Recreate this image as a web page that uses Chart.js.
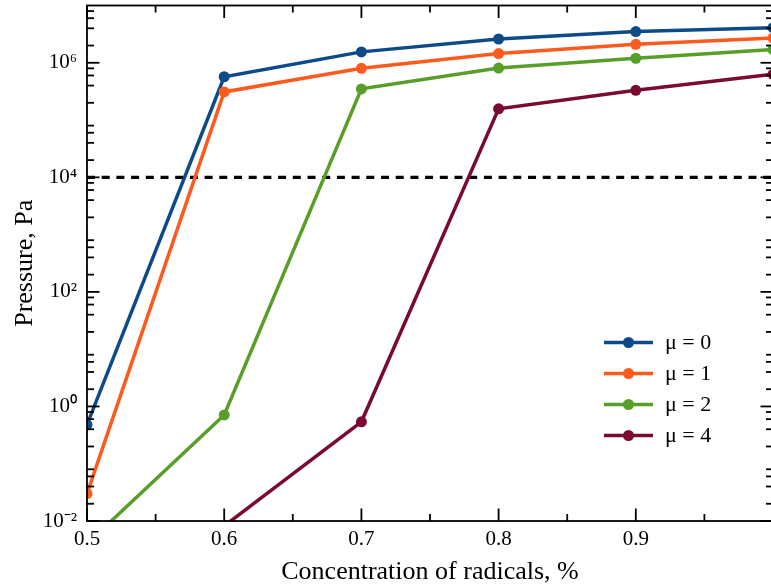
<!DOCTYPE html>
<html><head><meta charset="utf-8">
<script src="https://cdn.jsdelivr.net/npm/chart.js@4/dist/chart.umd.min.js"></script>
<style>
html,body{margin:0;padding:0;overflow:hidden;background:#fff;width:771px;height:588px}
#wrap{position:absolute;left:0;top:0;width:800px;height:588px}
canvas{display:block}
</style></head><body><div id="wrap"><canvas id="c" width="800" height="588" style="width:800px;height:588px"></canvas></div>
<script>
// ---- data ----
const concentrations = [0.5, 0.6, 0.7, 0.8, 0.9, 1.0];
const seriesLabels = ['μ = 0', 'μ = 1', 'μ = 2', 'μ = 4'];
const pressureMu0 = [0.48, 5.7e5, 1.55e6, 2.6e6, 3.5e6, 4.1e6];
const pressureMu1 = [0.03, 3.1e5, 8.0e5, 1.45e6, 2.1e6, 2.7e6];
const pressureMu2 = [0.004, 0.71, 3.5e5, 8.1e5, 1.2e6, 1.7e6];
const pressureMu4 = [null, 0.0082, 0.54, 1.57e5, 3.3e5, 6.3e5];
const thresholdPressure = 1e4;
const xTickValues = [0.5, 0.6, 0.7, 0.8, 0.9, 1.0];
const xTickLabels = ['0.5', '0.6', '0.7', '0.8', '0.9', ''];
const yTickValues = [1e-2, 1e0, 1e2, 1e4, 1e6];
const yTickLabels = ['10⁻²', '10⁰', '10²', '10⁴', '10⁶'];
const seriesColors = ['#0c4a88', '#ff5a1e', '#5a9e2a', '#7a0a2e'];

const FONT = "'Liberation Serif', 'Times New Roman', serif";
const allSeries = [pressureMu0, pressureMu1, pressureMu2, pressureMu4];

const toPoints = vals => concentrations.map((c, i) => ({x: c, y: vals[i]}));

const datasets = allSeries.map((vals, i) => ({
  label: seriesLabels[i],
  data: toPoints(vals),
  borderColor: seriesColors[i],
  backgroundColor: seriesColors[i],
  borderWidth: 3.5,
  pointRadius: 5.5,
  pointBorderWidth: 0,
  pointBackgroundColor: seriesColors[i],
  tension: 0,
  spanGaps: false,
  clip: 0,
  order: 4 - i
}));
datasets.push({
  label: '',
  data: [{x: concentrations[0], y: thresholdPressure}, {x: concentrations[concentrations.length - 1], y: thresholdPressure}],
  borderColor: '#000',
  borderWidth: 3.3,
  borderDash: [8, 6.7],
  pointRadius: 0,
  clip: 0,
  order: 10,
  isRef: true
});

const frameTicks = {
  id: 'frameTicks',
  afterDatasetsDraw(chart) {
    const {ctx, chartArea: {left, right, top, bottom}, scales: {x, y}} = chart;
    ctx.save();
    ctx.strokeStyle = '#000';
    ctx.lineWidth = 1.8;
    const seg = (x1, y1, x2, y2) => { ctx.beginPath(); ctx.moveTo(x1, y1); ctx.lineTo(x2, y2); ctx.stroke(); };
    const MAJ = 12.5, MIN = 7;
    const xt = x.ticks.map(t => t.value);
    xt.forEach(v => { const p = x.getPixelForValue(v); seg(p, bottom, p, bottom - MAJ); seg(p, top, p, top + MAJ); });
    for (let i = 0; i < xt.length - 1; i++) {
      const p = x.getPixelForValue((xt[i] + xt[i + 1]) / 2);
      seg(p, bottom, p, bottom - MIN); seg(p, top, p, top + MIN);
    }
    y.ticks.forEach(t => { const p = y.getPixelForValue(t.value); seg(left, p, left + MAJ, p); seg(right, p, right - MAJ, p); });
    const e0 = Math.floor(Math.log10(y.min)), e1 = Math.ceil(Math.log10(y.max));
    for (let e = e0; e <= e1; e++) {
      [2, 4, 6, 8].forEach(m => {
        const v = m * Math.pow(10, e);
        if (v > y.min && v < y.max) { const p = y.getPixelForValue(v); seg(left, p, left + MIN, p); seg(right, p, right - MIN, p); }
      });
    }
    ctx.strokeRect(left, top, right - left, bottom - top);
    ctx.restore();
  }
};

const legendInside = {
  id: 'legendInside',
  afterDraw(chart) {
    const {ctx, chartArea: {right, top}} = chart;
    const items = chart.data.datasets.filter(d => !d.isRef);
    ctx.save();
    ctx.font = "22px " + FONT;
    ctx.textBaseline = 'middle';
    ctx.textAlign = 'left';
    items.forEach((d, i) => {
      const cy = top + 337 + i * 31;
      const x0 = right - 169, x1 = right - 120;
      ctx.strokeStyle = d.borderColor; ctx.lineWidth = 3.5;
      ctx.beginPath(); ctx.moveTo(x0, cy); ctx.lineTo(x1, cy); ctx.stroke();
      ctx.fillStyle = d.borderColor;
      ctx.beginPath(); ctx.arc((x0 + x1) / 2, cy, 5.5, 0, Math.PI * 2); ctx.fill();
      ctx.fillStyle = '#000';
      ctx.fillText(d.label, right - 108, cy + 1);
    });
    ctx.restore();
  }
};

new Chart(document.getElementById('c'), {
  type: 'line',
  data: {datasets},
  options: {
    responsive: false,
    animation: false,
    events: [],
    layout: {padding: {top: 5, right: 27, left: 0, bottom: 0}},
    plugins: {legend: {display: false}, tooltip: {enabled: false}},
    scales: {
      x: {
        type: 'linear', min: 0.5, max: 1.0,
        afterBuildTicks: s => { s.ticks = xTickValues.map(v => ({value: v})); },
        afterFit: s => { s.height = 67; s.paddingLeft = 0; s.paddingRight = 0; },
        grid: {display: false, drawTicks: false},
        border: {display: false},
        ticks: {
          padding: 6, color: '#000', font: {family: FONT, size: 21}, maxRotation: 0, autoSkip: false,
          callback: v => { const i = xTickValues.findIndex(t => Math.abs(t - v) < 1e-9); return i >= 0 ? xTickLabels[i] : ''; }
        },
        title: {display: true, text: 'Concentration of radicals, %', color: '#000', font: {family: FONT, size: 26}, padding: {top: 0, bottom: 0}}
      },
      y: {
        type: 'logarithmic', min: 1e-2, max: 1e7,
        afterBuildTicks: s => { s.ticks = yTickValues.map(v => ({value: v})); },
        afterFit: s => { s.width = 87; s.paddingTop = 0; s.paddingBottom = 0; },
        grid: {display: false, drawTicks: false},
        border: {display: false},
        ticks: {
          padding: 10, color: '#000', font: {family: FONT, size: 21}, autoSkip: false,
          callback: v => { const i = yTickValues.findIndex(t => Math.abs(Math.log10(t) - Math.log10(v)) < 1e-9); return i >= 0 ? yTickLabels[i] : ''; }
        },
        title: {display: true, text: 'Pressure, Pa', color: '#000', font: {family: FONT, size: 26}, padding: {top: 10, bottom: 0}}
      }
    }
  },
  plugins: [frameTicks, legendInside]
});
</script></body></html>
